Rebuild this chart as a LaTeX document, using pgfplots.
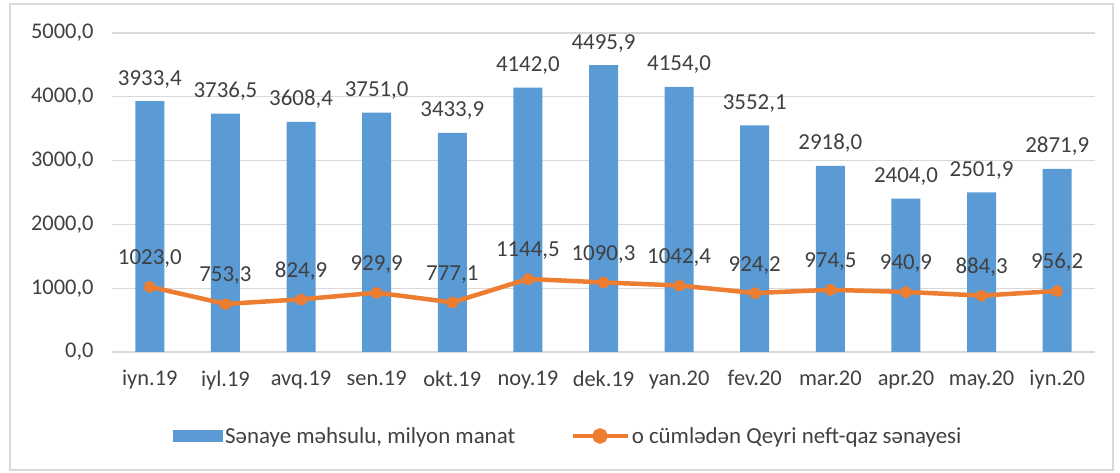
\documentclass[border=0pt]{standalone}
\usepackage{fontspec}
\setmainfont{Carlito}
\usepackage{pgfplots}
\pgfplotsset{compat=1.18}
\definecolor{barblue}{RGB}{91,155,213}
\definecolor{lineor}{RGB}{237,125,49}
\definecolor{gridg}{RGB}{217,217,217}
\definecolor{txtg}{RGB}{64,64,64}
\begin{document}
\begin{tikzpicture}[x=1bp,y=1bp]
\useasboundingbox (0,0) rectangle (1120,473);
\draw[gridg, line width=1.2bp] (10,3) rectangle (1113,469);
\begin{axis}[
  at={(112bp,121bp)}, anchor=south west,
  scale only axis, width=983bp, height=319bp,
  xmin=-0.5, xmax=12.5, ymin=0, ymax=5000,
  xtick={0,...,12},
  xticklabels={iyn.19,iyl.19,avq.19,sen.19,okt.19,noy.19,dek.19,yan.20,fev.20,mar.20,apr.20,may.20,iyn.20},
  ytick={0,1000,...,5000},
  ymajorgrids, grid style={gridg, line width=1.2bp},
  axis line style={draw=none},
  major tick length=0pt,
  tick label style={font=\fontsize{22.5}{26}\selectfont, text=txtg},
  /pgf/number format/.cd, use comma, fixed, fixed zerofill, precision=1, 1000 sep={}, assume math mode=true,
  /pgfplots/.cd,
  yticklabel style={xshift=-15bp},
  xticklabel style={yshift=-15bp},
  legend style={at={(0.062,-0.2633)}, anchor=west, draw=none, fill=none, inner sep=0pt,
    font=\fontsize{23}{26}\selectfont, text=txtg,
    nodes={inner xsep=2bp},
    legend columns=2, /tikz/every even column/.append style={column sep=53bp}},
  legend cell align=left,
]
\addplot[ybar, bar width=29bp, fill=barblue, draw=none,
  nodes near coords,
  every node near coord/.append style={anchor=base, yshift=16bp, font=\fontsize{23}{26}\selectfont, text=txtg},
  legend image code/.code={\fill[barblue] (0bp,-6bp) rectangle (50bp,6bp);}]
coordinates {(0,3933.4) (1,3736.5) (2,3608.4) (3,3751.0) (4,3433.9) (5,4142.0) (6,4495.9) (7,4154.0) (8,3552.1) (9,2918.0) (10,2404.0) (11,2501.9) (12,2871.9)};
\addlegendentry{Sənaye məhsulu, milyon manat}
\addplot[lineor, line width=4.5bp, mark=*, mark size=5.5bp, mark options={fill=lineor, draw=lineor, line width=0pt},
  nodes near coords,
  every node near coord/.append style={anchor=base, yshift=22bp, font=\fontsize{23}{26}\selectfont, text=txtg},
  legend image code/.code={\draw[lineor, line width=4.5bp] (0bp,0bp) -- (55bp,0bp); \fill[lineor] (27.5bp,0bp) circle (5.5bp);}]
coordinates {(0,1023.0) (1,753.3) (2,824.9) (3,929.9) (4,777.1) (5,1144.5) (6,1090.3) (7,1042.4) (8,924.2) (9,974.5) (10,940.9) (11,884.3) (12,956.2)};
\addlegendentry{o cümlədən Qeyri neft-qaz sənayesi}
\end{axis}
\end{tikzpicture}
\end{document}
